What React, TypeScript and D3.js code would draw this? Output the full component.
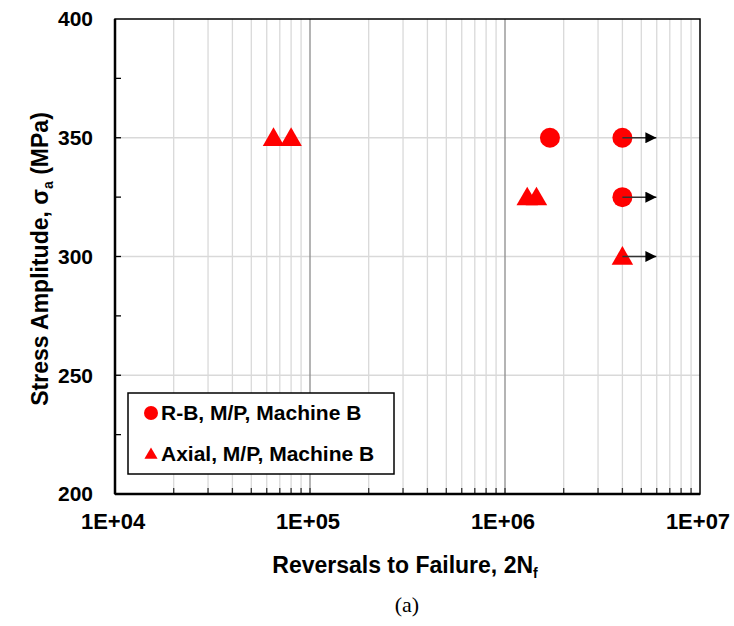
import React, { useEffect, useRef } from 'react';
import * as d3 from 'd3';

// R-B (rotating bending) series
const rbCycles = [1.7e6, 4.0e6, 4.0e6];
const rbStress = [350, 350, 325];
const rbRunout = [false, true, true];

// Axial series
const axialCycles = [6.5e4, 8.0e4, 1.3e6, 1.45e6, 4.0e6];
const axialStress = [350, 350, 325, 325, 300];
const axialRunout = [false, false, false, false, true];

const xTickValues = [1e4, 1e5, 1e6, 1e7];
const xTickLabels = ['1E+04', '1E+05', '1E+06', '1E+07'];
const yTickValues = [200, 250, 300, 350, 400];
const yMinorTicks = [225, 275, 325, 375];

const legendLabels = ['R-B, M/P, Machine B', 'Axial, M/P, Machine B'];

const App = () => {
    const svgRef = useRef<SVGSVGElement>(null);

    useEffect(() => {
        const svg = d3.select(svgRef.current);
        svg.selectAll('*').remove();

        const width = 734;
        const height = 626;
        const margin = { top: 19, right: 34, bottom: 132, left: 115 };
        const chartWidth = width - margin.left - margin.right;
        const chartHeight = height - margin.top - margin.bottom;
        const font = '"Liberation Sans", Arial, Helvetica, sans-serif';

        svg.attr('width', width).attr('height', height);

        const g = svg.append('g')
            .attr('transform', `translate(${margin.left},${margin.top})`);

        // Scales
        const xScale = d3.scaleLog().domain([1e4, 1e7]).range([0, chartWidth]);
        const yScale = d3.scaleLinear().domain([200, 400]).range([chartHeight, 0]);

        // minor values 2..9 in each decade
        const minorX: number[] = [];
        for (let e = 4; e < 7; e++) {
            for (let m = 2; m <= 9; m++) minorX.push(m * Math.pow(10, e));
        }

        // Minor vertical gridlines
        g.selectAll('.grid-minor')
            .data(minorX)
            .enter()
            .append('line')
            .attr('x1', d => xScale(d))
            .attr('x2', d => xScale(d))
            .attr('y1', 0)
            .attr('y2', chartHeight)
            .attr('stroke', '#d9d9d9')
            .attr('stroke-width', 1.3);

        // Horizontal gridlines
        g.selectAll('.grid-y')
            .data([250, 300, 350])
            .enter()
            .append('line')
            .attr('x1', 0)
            .attr('x2', chartWidth)
            .attr('y1', d => yScale(d))
            .attr('y2', d => yScale(d))
            .attr('stroke', '#d9d9d9')
            .attr('stroke-width', 1.3);

        // Decade gridlines
        g.selectAll('.grid-major')
            .data([1e5, 1e6])
            .enter()
            .append('line')
            .attr('x1', d => xScale(d))
            .attr('x2', d => xScale(d))
            .attr('y1', 0)
            .attr('y2', chartHeight)
            .attr('stroke', '#8c8c8c')
            .attr('stroke-width', 1.3);

        // Inward ticks on the x axis
        g.selectAll('.xtick')
            .data([...minorX, 1e5, 1e6])
            .enter()
            .append('line')
            .attr('x1', d => xScale(d))
            .attr('x2', d => xScale(d))
            .attr('y1', chartHeight)
            .attr('y2', chartHeight - 6)
            .attr('stroke', '#333')
            .attr('stroke-width', 1.3);

        // Inward ticks on the y axis
        g.selectAll('.ytick')
            .data([...yMinorTicks, 250, 300, 350])
            .enter()
            .append('line')
            .attr('x1', 0)
            .attr('x2', 6)
            .attr('y1', d => yScale(d))
            .attr('y2', d => yScale(d))
            .attr('stroke', '#000')
            .attr('stroke-width', 1.3);

        // Frame
        g.append('rect')
            .attr('x', 0)
            .attr('y', 0)
            .attr('width', chartWidth)
            .attr('height', chartHeight)
            .attr('fill', 'none')
            .attr('stroke', '#000')
            .attr('stroke-width', 1.5);
        g.append('line')
            .attr('x1', 0).attr('x2', 0)
            .attr('y1', 0).attr('y2', chartHeight)
            .attr('stroke', '#000').attr('stroke-width', 2.5);
        g.append('line')
            .attr('x1', 0).attr('x2', chartWidth)
            .attr('y1', chartHeight).attr('y2', chartHeight)
            .attr('stroke', '#000').attr('stroke-width', 2.5);

        // Tick labels
        g.selectAll('.xlabel')
            .data(xTickValues)
            .enter()
            .append('text')
            .attr('x', d => xScale(d) - 2)
            .attr('y', chartHeight + 35)
            .attr('text-anchor', 'middle')
            .style('font-family', font)
            .style('font-weight', 'bold')
            .style('font-size', '22px')
            .text((d, i) => xTickLabels[i]);

        g.selectAll('.ylabel')
            .data(yTickValues)
            .enter()
            .append('text')
            .attr('x', -22)
            .attr('y', d => yScale(d))
            .attr('dy', '0.35em')
            .attr('text-anchor', 'end')
            .style('font-family', font)
            .style('font-weight', 'bold')
            .style('font-size', '21px')
            .text(d => d);

        // Runout arrows
        const defs = svg.append('defs');
        defs.append('marker')
            .attr('id', 'arrowhead')
            .attr('viewBox', '0 0 10 10')
            .attr('refX', 10)
            .attr('refY', 5)
            .attr('markerUnits', 'userSpaceOnUse')
            .attr('markerWidth', 13)
            .attr('markerHeight', 11)
            .attr('orient', 'auto')
            .append('path')
            .attr('d', 'M0,0 L10,5 L0,10 Z')
            .attr('fill', '#000');

        const runouts = [
            ...rbCycles.map((c, i) => ({ c, s: rbStress[i], r: rbRunout[i] })),
            ...axialCycles.map((c, i) => ({ c, s: axialStress[i], r: axialRunout[i] })),
        ].filter(d => d.r);

        // Markers: circles for R-B
        g.selectAll('.rb')
            .data(rbCycles)
            .enter()
            .append('circle')
            .attr('cx', d => xScale(d))
            .attr('cy', (d, i) => yScale(rbStress[i]))
            .attr('r', 10)
            .attr('fill', '#ff0000');

        // Markers: triangles for axial
        const tri = d3.symbol().type(d3.symbolTriangle).size(200);
        g.selectAll('.axial')
            .data(axialCycles)
            .enter()
            .append('path')
            .attr('d', tri)
            .attr('transform', (d, i) => `translate(${xScale(d)},${yScale(axialStress[i]) + 2})`)
            .attr('fill', '#ff0000');

        g.selectAll('.runout')
            .data(runouts)
            .enter()
            .append('line')
            .attr('x1', d => xScale(d.c))
            .attr('x2', d => xScale(d.c) + 34)
            .attr('y1', d => yScale(d.s))
            .attr('y2', d => yScale(d.s))
            .attr('stroke', '#333')
            .attr('stroke-width', 1.5)
            .attr('marker-end', 'url(#arrowhead)');

        // Legend
        const legend = g.append('g').attr('transform', 'translate(13,374)');
        legend.append('rect')
            .attr('width', 266)
            .attr('height', 81)
            .attr('fill', '#fff')
            .attr('stroke', '#000')
            .attr('stroke-width', 1.5);
        legend.append('circle')
            .attr('cx', 23)
            .attr('cy', 20)
            .attr('r', 7)
            .attr('fill', '#ff0000');
        legend.append('path')
            .attr('d', d3.symbol().type(d3.symbolTriangle).size(75)())
            .attr('transform', 'translate(23,62)')
            .attr('fill', '#ff0000');
        legend.selectAll('.legend-text')
            .data(legendLabels)
            .enter()
            .append('text')
            .attr('x', 33)
            .attr('y', (d, i) => 27 + i * 41)
            .style('font-family', font)
            .style('font-weight', 'bold')
            .style('font-size', '21px')
            .text(d => d);

        // Axis titles
        const xTitle = svg.append('text')
            .attr('x', 405)
            .attr('y', 573)
            .attr('text-anchor', 'middle')
            .style('font-family', font)
            .style('font-weight', 'bold')
            .style('font-size', '23px');
        xTitle.append('tspan').text('Reversals to Failure, 2N');
        xTitle.append('tspan').attr('dy', 5).style('font-size', '14px').text('f');

        const yTitle = svg.append('text')
            .attr('transform', `translate(48,259) rotate(-90)`)
            .attr('text-anchor', 'middle')
            .style('font-family', font)
            .style('font-weight', 'bold')
            .style('font-size', '23px');
        yTitle.append('tspan').text('Stress Amplitude, σ');
        yTitle.append('tspan').attr('dy', 5).style('font-size', '14px').text('a');
        yTitle.append('tspan').attr('dy', -5).text(' (MPa)');

        // Caption
        svg.append('text')
            .attr('x', 407)
            .attr('y', 612)
            .attr('text-anchor', 'middle')
            .style('font-family', '"Liberation Serif", "Times New Roman", serif')
            .style('font-size', '22px')
            .text('(a)');
    }, []);

    return (
        <svg ref={svgRef} style={{ position: 'absolute', left: 0, top: 0 }}></svg>
    );
};

export default App;
